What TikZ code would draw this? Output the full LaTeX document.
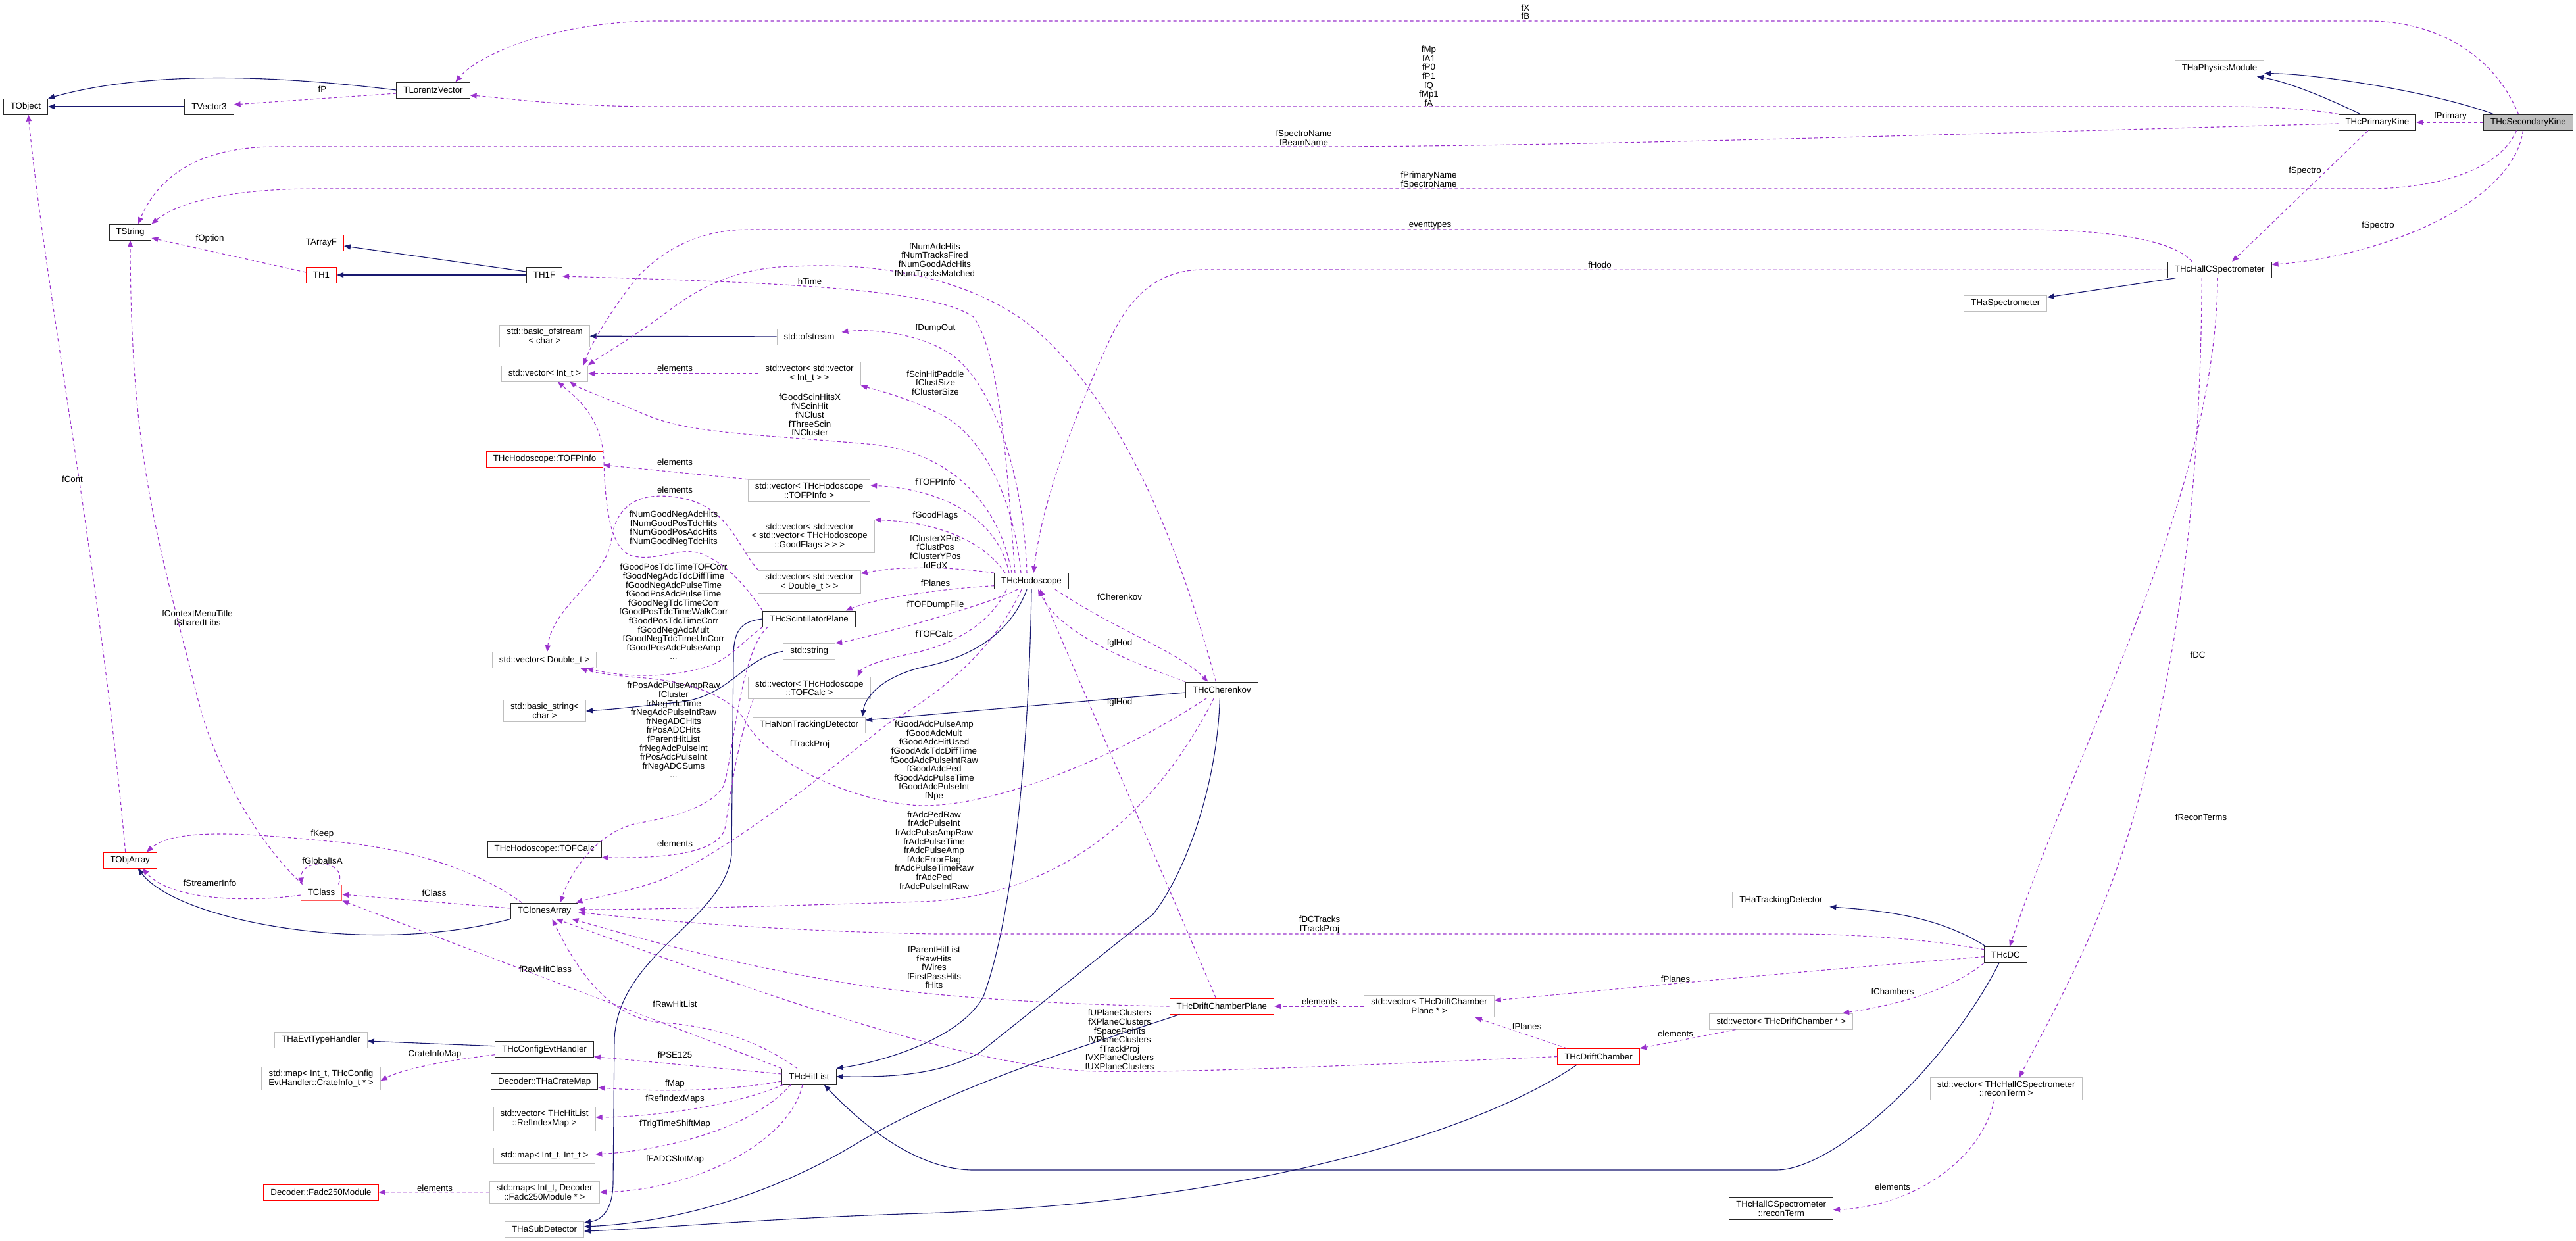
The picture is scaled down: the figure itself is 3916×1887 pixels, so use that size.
\documentclass[tikz,border=0pt]{standalone}
\usepackage{fontspec}
\setmainfont{Liberation Sans}
\usetikzlibrary{arrows.meta}

\definecolor{inhblue}{HTML}{191970}
\definecolor{usepurple}{HTML}{9A32CD}

\begin{document}
\begin{tikzpicture}[
    x=1pt, y=-1pt,
    >={Triangle[length=10pt,width=8pt]},
    font=\fontsize{13.3}{13.6}\selectfont,
    line width=1.1pt,
    cls/.style={draw=black!85, fill=white, line width=1pt, minimum height=24pt,
        inner xsep=10.5pt, inner ysep=5pt, align=center},
    ext/.style={cls, draw=gray!50},
    undoc/.style={cls, draw=red},
    inh/.style={draw=inhblue, ->},
    member/.style={draw=usepurple, dash pattern=on 5pt off 4pt, ->},
    lbl/.style={align=center, inner sep=0pt}
]
    \useasboundingbox (0,0) rectangle (3916,1887);

    % ROOT classes, top left
    \node[cls] (tobject) at (39,162) {TObject};
    \node[cls] (tvector) at (318,162) {TVector3};
    \node[cls] (tlorentz) at (658.5,137) {TLorentzVector};
    \node[cls] (tstring) at (198,353) {TString};
    \node[undoc] (tarrayf) at (488.5,369) {TArrayF};
    \node[undoc] (th1) at (488.5,418) {TH1};
    \node[cls] (th1f) at (827.5,418) {TH1F};
    \node[undoc] (tobjarray) at (197.7,1308) {TObjArray};
    \node[cls, draw=red!65] (tclass) at (488.5,1357) {TClass};
    \node[cls] (tclones) at (827.5,1385) {TClonesArray};

    % containers and helpers, middle columns
    \node[ext] (basicofs) at (828,511) {std::basic\_ofstream\\< char >};
    \node[ext] (ofstream) at (1230,512) {std::ofstream};
    \node[ext] (vecint) at (828,568) {std::vector< Int\_t >};
    \node[ext] (vecvecint) at (1230.5,568) {std::vector< std::vector\\< Int\_t > >};
    \node[undoc] (tofpinfo) at (828,698) {THcHodoscope::TOFPInfo};
    \node[ext] (vectofp) at (1230,746) {std::vector< THcHodoscope\\::TOFPInfo >};
    \node[ext] (vecflags) at (1230.7,815.5) {std::vector< std::vector\\< std::vector< THcHodoscope\\::GoodFlags > > >};
    \node[ext] (vecvecdbl) at (1230.5,885) {std::vector< std::vector\\< Double\_t > >};
    \node[cls] (scint) at (1230,941) {THcScintillatorPlane};
    \node[ext] (stdstring) at (1230.3,990.3) {std::string};
    \node[ext] (vecdbl) at (827.7,1003.7) {std::vector< Double\_t >};
    \node[ext] (vectofcalc) at (1230.4,1046.2) {std::vector< THcHodoscope\\::TOFCalc >};
    \node[ext] (basicstr) at (828,1081) {std::basic\_string<\\char >};
    \node[ext] (nontrack) at (1230,1102) {THaNonTrackingDetector};
    \node[cls] (tofcalc) at (827.7,1291.3) {THcHodoscope::TOFCalc};

    % detectors
    \node[cls] (hodo) at (1568,883.7) {THcHodoscope};
    \node[cls] (cherenkov) at (1857.4,1049) {THcCherenkov};
    \node[undoc] (dcplane) at (1857.4,1530) {THcDriftChamberPlane};
    \node[ext] (vecdcplane) at (2172.6,1530) {std::vector< THcDriftChamber\\Plane * >};
    \node[undoc] (chamber) at (2430,1606.6) {THcDriftChamber};
    \node[ext] (vecchamber) at (2707.7,1553) {std::vector< THcDriftChamber * >};
    \node[ext] (thatrack) at (2707.4,1368.8) {THaTrackingDetector};
    \node[cls] (thcdc) at (3049,1451.7) {THcDC};
    \node[ext] (vecrecon) at (3049.7,1655.4) {std::vector< THcHallCSpectrometer\\::reconTerm >};
    \node[cls] (recon) at (2707.7,1837.5) {THcHallCSpectrometer\\::reconTerm};

    % hit list and decoder, bottom
    \node[ext] (evttype) at (488,1581) {THaEvtTypeHandler};
    \node[ext] (crateinfo) at (488,1640) {std::map< Int\_t, THcConfig\\EvtHandler::CrateInfo\_t * >};
    \node[undoc] (fadc) at (488,1813) {Decoder::Fadc250Module};
    \node[cls] (configevt) at (827.6,1595.7) {THcConfigEvtHandler};
    \node[cls] (cratemap) at (827.8,1644.8) {Decoder::THaCrateMap};
    \node[ext] (vecrefidx) at (827.6,1701) {std::vector< THcHitList\\::RefIndexMap >};
    \node[ext] (mapint) at (827.8,1757) {std::map< Int\_t, Int\_t >};
    \node[ext] (mapfadc) at (827.8,1812.7) {std::map< Int\_t, Decoder\\::Fadc250Module * >};
    \node[ext] (subdet) at (827.6,1869) {THaSubDetector};
    \node[cls] (hitlist) at (1229.9,1637) {THcHitList};

    % kinematics and spectrometer, right
    \node[ext] (physmod) at (3374,103.7) {THaPhysicsModule};
    \node[cls] (primkine) at (3613.9,186) {THcPrimaryKine};
    \node[cls, fill=gray!50] (seckine) at (3843.4,186) {THcSecondaryKine};
    \node[cls] (hallc) at (3374.2,410.3) {THcHallCSpectrometer};
    \node[ext] (thaspec) at (3048.9,461) {THaSpectrometer};

    % Inheritance
    \draw[inh] (tlorentz.west) .. controls (480,122) and (250,100) .. (tobject.north east);
    \draw[inh] (tvector) -- (tobject);
    \draw[inh] ([yshift=5]th1f.west) -- ([yshift=-5]tarrayf.east);
    \draw[inh] (th1f) -- (th1);
    \draw[inh] ([xshift=15]seckine.north west) .. controls (3700,140) and (3520,112) .. ([yshift=-8]physmod.east);
    \draw[inh] ([xshift=-26]primkine.north) .. controls (3540,150) and (3480,125) .. ([xshift=57]physmod.south);
    \draw[inh] ([xshift=-67]hallc.south) -- ([yshift=9]thaspec.east);
    \draw[inh] (ofstream) -- (basicofs);
    \draw[inh] (scint.west) .. controls (1125,945) and (1115,960) .. (1115,1000) -- (1112,1300)
        .. controls (1100,1400) and (940,1450) .. (934,1580) -- (932,1800)
        .. controls (931,1840) and (915,1855) .. ([yshift=10]subdet.east);
    \draw[inh] ([xshift=-7]hodo.south) .. controls (1530,980) and (1450,1005) .. (1400,1015)
        .. controls (1340,1030) and (1315,1060) .. ([xshift=-5]nontrack.north east);
    \draw[inh] (hodo.south) .. controls (1565,1100) and (1545,1380) .. (1495,1515)
        .. controls (1460,1580) and (1340,1615) .. (hitlist.north east);
    \draw[inh] ([yshift=-4]cherenkov.west) -- ([yshift=7]nontrack.east);
    \draw[inh] ([xshift=-3]cherenkov.south) .. controls (1850,1200) and (1800,1330) .. (1753,1390)
        -- (1490,1600) .. controls (1420,1640) and (1330,1637) .. (hitlist.east);
    \draw[inh] ([xshift=-64]dcplane.south) .. controls (1650,1590) and (1450,1650) .. (1300,1740)
        .. controls (1150,1830) and (1000,1860) .. ([yshift=4]subdet.east);
    \draw[inh] ([xshift=-33]chamber.south) .. controls (2250,1720) and (1900,1830) .. (1400,1845)
        .. controls (1150,1853) and (1000,1868) .. ([yshift=-3]subdet.east);
    \draw[inh] ([xshift=-30]thcdc.north) .. controls (2950,1395) and (2870,1385) .. ([yshift=-10]thatrack.east);
    \draw[inh] ([xshift=-10]thcdc.south) .. controls (2960,1620) and (2790,1779) .. (2700,1779)
        -- (1480,1779) .. controls (1400,1779) and (1320,1720) .. ([xshift=23]hitlist.south);
    \draw[inh] ([yshift=5]configevt.west) -- ([yshift=-2]evttype.east);
    \draw[inh] (tclones.south west) .. controls (560,1455) and (270,1400) .. ([xshift=12]tobjarray.south);
    \draw[inh] (stdstring.west) .. controls (1130,1000) and (1110,1060) .. (1030,1068)
        .. controls (980,1073) and (940,1078) .. (basicstr.east);

    % Members: kinematics and spectrometer
    \draw[member] ([xshift=-15]seckine.north) .. controls (3790,80) and (3700,32) .. (3600,32)
        -- (1000,32) .. controls (850,32) and (730,80) .. ([xshift=34]tlorentz.north);
    \node[lbl] (l-fxfb) at (2319,18) {fX\\fB};
    \draw[member] (seckine.west) -- (primkine.east);
    \node[lbl] (l-fprimary) at (3725,177) {fPrimary};
    \draw[member] ([xshift=-18]seckine.south) .. controls (3800,260) and (3700,287) .. (3600,287)
        -- (480,287) .. controls (380,287) and (280,300) .. (tstring.north east);
    \node[lbl] (l-prname) at (2172,274) {fPrimaryName\\fSpectroName};
    \draw[member] ([yshift=-2]primkine.west) .. controls (3100,200) and (2400,223) .. (2000,223)
        -- (420,223) .. controls (300,223) and (240,270) .. ([xshift=12]tstring.north);
    \node[lbl] (l-spname) at (1982,210) {fSpectroName\\fBeamName};
    \draw[member] (primkine.north west) .. controls (3500,165) and (3450,162) .. (3380,162)
        -- (1000,162) .. controls (850,162) and (760,148) .. ([yshift=-8]tlorentz.east);
    \node[lbl] (l-kine) at (2172,115.6) {fMp\\fA1\\fP0\\fP1\\fQ\\fMp1\\fA};
    \draw[member] ([xshift=-14]primkine.south) -- ([xshift=19]hallc.north);
    \node[lbl] (l-spectro1) at (3504,260) {fSpectro};
    \draw[member] ([xshift=-8]seckine.south) .. controls (3820,310) and (3620,390) .. ([yshift=8]hallc.east);
    \node[lbl] (l-spectro2) at (3615,343) {fSpectro};
    \draw[member] ([xshift=-42]hallc.north) .. controls (3300,360) and (3180,349) .. (3070,349)
        -- (1140,349) .. controls (1050,349) and (1000,390) .. (970,420)
        .. controls (930,470) and (900,520) .. ([xshift=-7]vecint.north east);
    \node[lbl] (l-evtypes) at (2174,343) {eventtypes};
    \draw[member] (hallc.west) -- (1830,410) .. controls (1760,410) and (1720,450) .. (1690,510)
        .. controls (1630,640) and (1585,760) .. ([xshift=3]hodo.north);
    \node[lbl] (l-hodo) at (2432,403) {fHodo};
    \draw[member] ([xshift=-3]hallc.south) .. controls (3368,750) and (3170,1100) .. ([xshift=6]thcdc.north);
    \node[lbl] (l-dc) at (3341,996) {fDC};
    \draw[member] ([xshift=-27]hallc.south) .. controls (3345,800) and (3300,1050) .. (3240,1254)
        .. controls (3190,1420) and (3110,1560) .. ([xshift=20]vecrecon.north);
    \node[lbl] (l-recon) at (3346,1243) {fReconTerms};
    \draw[member] ([xshift=-18]vecrecon.south) .. controls (3010,1770) and (2900,1835) .. ([yshift=-2]recon.east);
    \node[lbl] (l-recelem) at (2877,1805) {elements};

    % Members: drift chambers
    \draw[member] ([yshift=8]thcdc.west) .. controls (2930,1428) and (2820,1420) .. (2720,1420)
        -- (1420,1420) .. controls (1150,1415) and (950,1395) .. ([yshift=-2]tclones.east);
    \node[lbl] (l-dctracks) at (2006,1406) {fDCTracks\\fTrackProj};
    \draw[member] ([yshift=-3]thcdc.west) .. controls (2700,1480) and (2450,1505) .. ([yshift=9]vecdcplane.east);
    \node[lbl] (l-dcplanes) at (2547,1489) {fPlanes};
    \draw[member] (thcdc.south west) .. controls (2960,1510) and (2870,1530) .. ([xshift=-16]vecchamber.north east);
    \node[lbl] (l-chambers) at (2877,1508) {fChambers};
    \draw[member] ([xshift=40]vecchamber.south west) -- (chamber.north east);
    \node[lbl] (l-chelem) at (2547,1572) {elements};
    \draw[member] ([xshift=-48]chamber.north) -- ([xshift=70]vecdcplane.south);
    \node[lbl] (l-chplanes) at (2321,1561) {fPlanes};
    \draw[member] (vecdcplane) -- (dcplane);
    \node[lbl] (l-plelem) at (2006,1523) {elements};
    \draw[member] (chamber.west) .. controls (2100,1618) and (1800,1632) .. (1667,1629)
        .. controls (1450,1625) and (1050,1470) .. ([xshift=18]tclones.south);
    \node[lbl] (l-uplane) at (1702,1581) {fUPlaneClusters\\fXPlaneClusters\\fSpacePoints\\fVPlaneClusters\\fTrackProj\\fVXPlaneClusters\\fUXPlaneClusters};
    \draw[member] (dcplane.west) .. controls (1650,1528) and (1450,1520) .. (1300,1497)
        .. controls (1100,1465) and (950,1420) .. ([xshift=42]tclones.south);
    \node[lbl] (l-parent) at (1420,1471) {fParentHitList\\fRawHits\\fWires\\fFirstPassHits\\fHits};
    \draw[member] ([xshift=-9]dcplane.north) -- ([xshift=13]hodo.south);
    \node[lbl] (l-glhod2) at (1702,1068) {fglHod};

    % Members: hodoscope and cherenkov
    \draw[member] ([xshift=36]hodo.south) .. controls (1700,960) and (1790,990) .. ([xshift=-21]cherenkov.north);
    \node[lbl] (l-cher) at (1702,908) {fCherenkov};
    \draw[member] (cherenkov.north west) .. controls (1700,1000) and (1610,960) .. ([xshift=10]hodo.south);
    \node[lbl] (l-glhod1) at (1702,978) {fglHod};
    \draw[member] ([xshift=-9]cherenkov.north) .. controls (1790,820) and (1700,600) .. (1560,490)
        .. controls (1450,410) and (1300,400) .. (1210,405)
        .. controls (1120,405) and (1060,440) .. (1020,470)
        .. controls (960,515) and (915,540) .. (vecint.north east);
    \node[lbl] (l-numadc) at (1421,395) {fNumAdcHits\\fNumTracksFired\\fNumGoodAdcHits\\fNumTracksMatched};
    \draw[member] ([xshift=-25]hodo.north) .. controls (1530,700) and (1520,540) .. (1480,482)
        .. controls (1420,440) and (1200,430) .. ([yshift=-2]th1f.east);
    \node[lbl] (l-htime) at (1231,428) {hTime};
    \draw[member] ([xshift=-7]hodo.north) .. controls (1555,700) and (1500,570) .. (1440,535)
        .. controls (1390,505) and (1320,500) .. ([yshift=7]ofstream.east);
    \node[lbl] (l-dump) at (1422,499) {fDumpOut};
    \draw[member] ([xshift=-16]hodo.north) .. controls (1540,750) and (1490,660) .. (1430,630)
        .. controls (1380,605) and (1340,595) .. (vecvecint.south east);
    \node[lbl] (l-paddle) at (1422,582) {fScinHitPaddle\\fClustSize\\fClusterSize};
    \draw[member] ([xshift=-30]hodo.north) .. controls (1520,770) and (1450,690) .. (1330,676)
        .. controls (1150,660) and (1050,660) .. (980,630)
        .. controls (920,605) and (880,590) .. ([xshift=38]vecint.south);
    \node[lbl] (l-scinhits) at (1231,631) {fGoodScinHitsX\\fNScinHit\\fNClust\\fThreeScin\\fNCluster};
    \draw[member] ([xshift=-34]hodo.north) .. controls (1520,800) and (1450,745) .. ([yshift=8]vectofp.east);
    \node[lbl] (l-tofpinfo) at (1422,733) {fTOFPInfo};
    \draw[member] ([xshift=-40]hodo.north) .. controls (1500,830) and (1440,795) .. (vecflags.north east);
    \node[lbl] (l-flags) at (1422,784) {fGoodFlags};
    \draw[member] (hodo.north west) .. controls (1450,862) and (1370,860) .. ([yshift=13]vecvecdbl.east);
    \node[lbl] (l-clpos) at (1422,839) {fClusterXPos\\fClustPos\\fClusterYPos\\fdEdX};
    \draw[member] ([yshift=-7]hodo.west) .. controls (1430,895) and (1330,910) .. ([xshift=-15]scint.north east);
    \node[lbl] (l-planes) at (1422,887) {fPlanes};
    \draw[member] ([xshift=-21]hodo.south) .. controls (1510,915) and (1420,940) .. (1380,952)
        .. controls (1330,965) and (1290,975) .. (stdstring.north east);
    \node[lbl] (l-tofdump) at (1422,920) {fTOFDumpFile};
    \draw[member] ([xshift=-38]hodo.south) .. controls (1500,960) and (1430,985) .. (1380,995)
        .. controls (1340,1003) and (1310,1015) .. ([xshift=-20]vectofcalc.north east);
    \node[lbl] (l-tofcalc) at (1420,964) {fTOFCalc};
    \draw[member] ([xshift=-15]hodo.south) .. controls (1500,1010) and (1400,1070) .. (1350,1100)
        .. controls (1250,1180) and (1100,1300) .. (1000,1340)
        .. controls (940,1360) and (900,1365) .. ([xshift=48]tclones.north);
    \node[lbl] (l-trackproj) at (1231,1132) {fTrackProj};
    \draw[member] ([xshift=-23]cherenkov.south) .. controls (1700,1150) and (1520,1225) .. (1403,1225)
        .. controls (1300,1222) and (1170,1160) .. (1135,1100)
        .. controls (1115,1060) and (1050,1035) .. (968,1030)
        .. controls (930,1027) and (900,1022) .. ([xshift=55]vecdbl.south);
    \node[lbl] (l-goodadc) at (1420,1156.6) {fGoodAdcPulseAmp\\fGoodAdcMult\\fGoodAdcHitUsed\\fGoodAdcTdcDiffTime\\fGoodAdcPulseIntRaw\\fGoodAdcPed\\fGoodAdcPulseTime\\fGoodAdcPulseInt\\fNpe};
    \draw[member] ([xshift=-12]cherenkov.south) .. controls (1750,1250) and (1600,1365) .. (1400,1371)
        .. controls (1200,1377) and (1000,1383) .. ([yshift=2]tclones.east);
    \node[lbl] (l-radc) at (1420,1293) {frAdcPedRaw\\frAdcPulseInt\\frAdcPulseAmpRaw\\frAdcPulseTime\\frAdcPulseAmp\\fAdcErrorFlag\\frAdcPulseTimeRaw\\frAdcPed\\frAdcPulseIntRaw};

    % Members: container elements and scintillator plane
    \draw[member] (vecvecint) -- (vecint);
    \node[lbl] (l-intelem) at (1026,560) {elements};
    \draw[member] (vectofp.north west) -- ([yshift=-9]tofpinfo.east);
    \node[lbl] (l-tofpelem) at (1026,703) {elements};
    \draw[member] (vecvecdbl.north west) .. controls (1120,830) and (1110,775) .. (1040,758)
        .. controls (975,745) and (940,765) .. (930,815)
        .. controls (925,880) and (840,920) .. ([xshift=4]vecdbl.north);
    \node[lbl] (l-dblelem) at (1026,745) {elements};
    \draw[member] (scint.north west) .. controls (1140,900) and (1110,860) .. (1067,842)
        .. controls (1030,830) and (1000,855) .. (960,845)
        .. controls (930,835) and (920,780) .. (918,700)
        .. controls (915,630) and (870,600) .. ([xshift=20]vecint.south);
    \node[lbl] (l-numgood) at (1024,803.5) {fNumGoodNegAdcHits\\fNumGoodPosTdcHits\\fNumGoodPosAdcHits\\fNumGoodNegTdcHits};
    \draw[member] (scint.south west) .. controls (1130,975) and (1110,1000) .. (1080,1012)
        .. controls (1020,1032) and (950,1030) .. ([xshift=64]vecdbl.south);
    \node[lbl] (l-goodpos) at (1024,930) {fGoodPosTdcTimeTOFCorr\\fGoodNegAdcTdcDiffTime\\fGoodNegAdcPulseTime\\fGoodPosAdcPulseTime\\fGoodNegTdcTimeCorr\\fGoodPosTdcTimeWalkCorr\\fGoodPosTdcTimeCorr\\fGoodNegAdcMult\\fGoodNegTdcTimeUnCorr\\fGoodPosAdcPulseAmp\\...};
    \draw[member] ([xshift=8]scint.south west) .. controls (1125,990) and (1115,1150) .. (1100,1195)
        .. controls (1080,1230) and (1010,1245) .. (968,1252)
        .. controls (910,1265) and (870,1320) .. ([xshift=24]tclones.north);
    \node[lbl] (l-rpos) at (1024,1110) {frPosAdcPulseAmpRaw\\fCluster\\frNegTdcTime\\frNegAdcPulseIntRaw\\frNegADCHits\\frPosADCHits\\fParentHitList\\frNegAdcPulseInt\\frPosAdcPulseInt\\frNegADCSums\\...};
    \draw[member] ([xshift=8]vectofcalc.south west) .. controls (1120,1130) and (1112,1200) .. (1102,1260)
        .. controls (1090,1300) and (1000,1305) .. (tofcalc.south east);
    \node[lbl] (l-calcelem) at (1026,1283) {elements};

    % Members: hit list
    \draw[member] (hitlist.north west) -- (tclass.south east);
    \node[lbl] (l-rawclass) at (829,1474) {fRawHitClass};
    \draw[member] ([xshift=-18]hitlist.north) .. controls (1150,1580) and (1080,1560) .. (1008,1555)
        .. controls (920,1550) and (870,1460) .. ([xshift=12]tclones.south);
    \node[lbl] (l-rawlist) at (1026,1527) {fRawHitList};
    \draw[member] ([yshift=4]hitlist.west) -- ([yshift=-11]configevt.east);
    \node[lbl] (l-pse) at (1026,1604) {fPSE125};
    \draw[member] ([yshift=-7]hitlist.west) .. controls (1100,1660) and (1000,1660) .. ([yshift=-9]cratemap.east);
    \node[lbl] (l-map) at (1026,1648) {fMap};
    \draw[member] ([xshift=-40]hitlist.south) .. controls (1120,1680) and (1000,1698) .. ([yshift=2]vecrefidx.east);
    \node[lbl] (l-refidx) at (1026,1671) {fRefIndexMaps};
    \draw[member] ([xshift=-28]hitlist.south) .. controls (1140,1720) and (1000,1750) .. ([yshift=2]mapint.east);
    \node[lbl] (l-trig) at (1026,1709) {fTrigTimeShiftMap};
    \draw[member] ([xshift=-10]hitlist.south) .. controls (1200,1740) and (1050,1810) .. (mapfadc.east);
    \node[lbl] (l-fadcslot) at (1026,1763) {fFADCSlotMap};
    \draw[member] (mapfadc) -- (fadc);
    \node[lbl] (l-fadcelem) at (661,1807) {elements};
    \draw[member] ([yshift=-8]configevt.west) .. controls (700,1610) and (620,1622) .. ([yshift=-3]crateinfo.east);
    \node[lbl] (l-crate) at (661,1603) {CrateInfoMap};

    % Members: ROOT collections
    \draw[member] ([xshift=-7]tobjarray.north) .. controls (150,850) and (70,450) .. ([xshift=4]tobject.south);
    \node[lbl] (l-cont) at (110,729) {fCont};
    \draw[member] ([xshift=3]tclass.north west) .. controls (400,1290) and (330,1180) .. (300,1060)
        .. controls (240,820) and (199,700) .. (tstring.south);
    \node[lbl] (l-ctx) at (300,940) {fContextMenuTitle\\fSharedLibs};
    \draw[member] ([yshift=-4]tclass.west) .. controls (380,1372) and (260,1370) .. ([xshift=19]tobjarray.south);
    \node[lbl] (l-streamer) at (319,1343) {fStreamerInfo};
    \draw[member] ([xshift=26]tclass.north) .. controls (530,1305) and (455,1305) .. ([xshift=-30]tclass.north);
    \node[lbl] (l-isa) at (490,1309) {fGlobalIsA};
    \draw[member] ([yshift=4]tclones.west) -- ([yshift=-3]tclass.east);
    \node[lbl] (l-class) at (660,1358) {fClass};
    \draw[member] ([xshift=-34]tclones.north) .. controls (720,1320) and (620,1290) .. (510,1280)
        .. controls (400,1270) and (270,1255) .. ([xshift=25]tobjarray.north);
    \node[lbl] (l-keep) at (490,1268) {fKeep};
    \draw[member] ([yshift=4]th1.west) -- ([yshift=-9]tstring.east);
    \node[lbl] (l-option) at (319,363) {fOption};
    \draw[member] ([yshift=-5]tlorentz.west) -- ([yshift=3]tvector.east);
    \node[lbl] (l-fp) at (490,136) {fP};

\end{tikzpicture}
\end{document}
